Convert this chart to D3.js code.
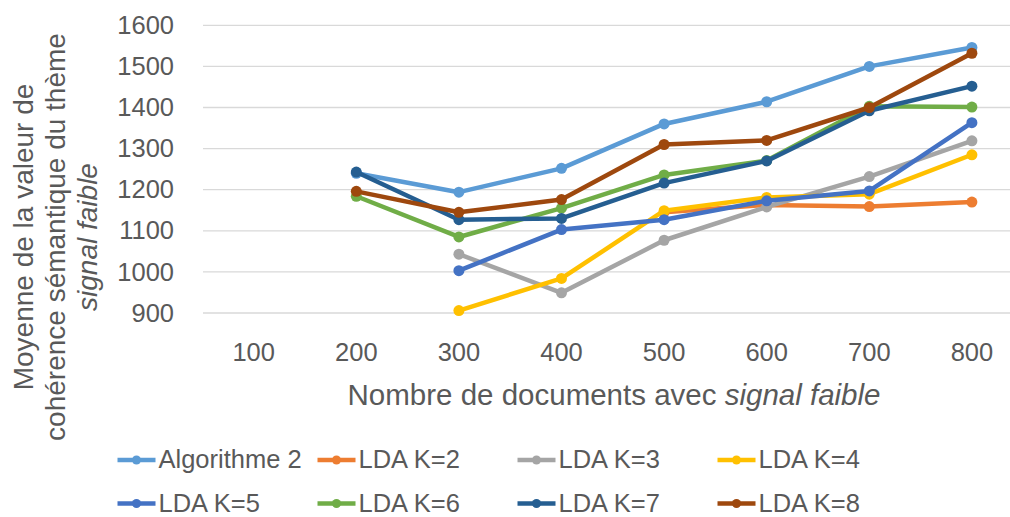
<!DOCTYPE html>
<html>
<head>
<meta charset="utf-8">
<script src="https://cdn.jsdelivr.net/npm/d3@7.9.0/dist/d3.min.js"></script>
<style>
  body { margin: 0; background: #fff; }
  svg { display: block; font-family: "Liberation Sans", Arial, sans-serif; }
  text { fill: #595959; }
</style>
</head>
<body>
<svg id="chart" width="1010" height="517"></svg>
<script>
// x categories (number of documents)
const categories = ["100", "200", "300", "400", "500", "600", "700", "800"];
const yTicks = [900, 1000, 1100, 1200, 1300, 1400, 1500, 1600];

// series names + values (null = no point)
const seriesNames = ["Algorithme 2", "LDA K=2", "LDA K=3", "LDA K=4", "LDA K=5", "LDA K=6", "LDA K=7", "LDA K=8"];
const algo2 = [null, 1240, 1194, 1252, 1360, 1414, 1500, 1546];
const ldaK2 = [null, null, null, null, 1145, 1163, 1159, 1170];
const ldaK3 = [null, null, 1043, 949, 1077, 1158, 1232, 1319];
const ldaK4 = [null, null, 906, 984, 1149, 1181, 1189, 1285];
const ldaK5 = [null, null, 1003, 1103, 1127, 1173, 1197, 1363];
const ldaK6 = [null, 1184, 1085, 1155, 1236, 1271, 1403, 1401];
const ldaK7 = [null, 1243, 1127, 1130, 1216, 1270, 1392, 1452];
const ldaK8 = [null, 1196, 1145, 1176, 1310, 1320, 1400, 1532];
const seriesValues = [algo2, ldaK2, ldaK3, ldaK4, ldaK5, ldaK6, ldaK7, ldaK8];
const colors = ["#5B9BD5", "#ED7D31", "#A5A5A5", "#FFC000", "#4472C4", "#70AD47", "#255E91", "#9E480E"];

const svg = d3.select("#chart");

// plot area (runs off the right edge, like the reference crop)
const x = d3.scaleBand().domain(categories).range([202.4, 1023.2]);
const y = d3.scaleLinear().domain([900, 1600]).range([313, 25.3]);

// gridlines
svg.append("g")
  .selectAll("line")
  .data(yTicks)
  .join("line")
  .attr("x1", 203).attr("x2", 1023)
  .attr("y1", d => y(d)).attr("y2", d => y(d))
  .attr("stroke", "#d9d9d9")
  .attr("stroke-width", 1.3);

// y axis labels
const yAxis = svg.append("g")
  .attr("transform", "translate(174,0)")
  .call(d3.axisLeft(y).tickValues(yTicks).tickFormat(d3.format("d")).tickSize(0).tickPadding(0));
yAxis.select(".domain").remove();
yAxis.selectAll("text")
  .attr("font-size", 25.5)
  .attr("font-family", "Liberation Sans, Arial, sans-serif")
  .attr("fill", "#595959");

// x axis labels
const xAxis = svg.append("g")
  .attr("transform", "translate(0,361)")
  .call(d3.axisBottom(x).tickSize(0).tickPadding(0));
xAxis.select(".domain").remove();
xAxis.selectAll("text")
  .attr("y", 0).attr("dy", 0)
  .attr("font-size", 25.5)
  .attr("font-family", "Liberation Sans, Arial, sans-serif")
  .attr("fill", "#595959");

// x title
const xTitle = svg.append("text")
  .attr("x", 614).attr("y", 405)
  .attr("text-anchor", "middle")
  .attr("font-size", 29.5);
xTitle.append("tspan").text("Nombre de documents avec ");
xTitle.append("tspan").attr("font-style", "italic").text("signal faible");

// y title (three lines, rotated)
const yTitleLines = [
  { text: "Moyenne de la valeur de", italic: false },
  { text: "cohérence sémantique du thème", italic: false },
  { text: "signal faible", italic: true }
];
svg.append("g")
  .selectAll("text")
  .data(yTitleLines)
  .join("text")
  .attr("transform", (d, i) => `translate(${33 + i * 32},237) rotate(-90)`)
  .attr("text-anchor", "middle")
  .attr("font-size", 28)
  .attr("font-style", d => d.italic ? "italic" : null)
  .text(d => d.text);

// lines + markers
const line = d3.line()
  .defined(d => d.v !== null)
  .x(d => x(d.c) + x.bandwidth() / 2)
  .y(d => y(d.v));

seriesValues.forEach((vals, i) => {
  const pts = vals.map((v, j) => ({ c: categories[j], v: v }));
  svg.append("path")
    .datum(pts)
    .attr("d", line)
    .attr("fill", "none")
    .attr("stroke", colors[i])
    .attr("stroke-width", 4.5)
    .attr("stroke-linejoin", "round");
  svg.append("g")
    .selectAll("circle")
    .data(pts.filter(d => d.v !== null))
    .join("circle")
    .attr("cx", d => x(d.c) + x.bandwidth() / 2)
    .attr("cy", d => y(d.v))
    .attr("r", 5.5)
    .attr("fill", colors[i]);
});

// legend: 4 columns x 2 rows
const legend = svg.append("g");
seriesNames.forEach((name, i) => {
  const col = i % 4, row = Math.floor(i / 4);
  const lx = 117.5 + col * 200, ly = 460 + row * 43.5;
  const g = legend.append("g").attr("transform", `translate(${lx},${ly})`);
  g.append("line")
    .attr("x1", 0).attr("x2", 38)
    .attr("stroke", colors[i]).attr("stroke-width", 4.5);
  g.append("circle").attr("cx", 19).attr("r", 4.5).attr("fill", colors[i]);
  g.append("text")
    .attr("x", 41).attr("y", 8)
    .attr("font-size", 25.5)
    .text(name);
});
</script>
</body>
</html>
